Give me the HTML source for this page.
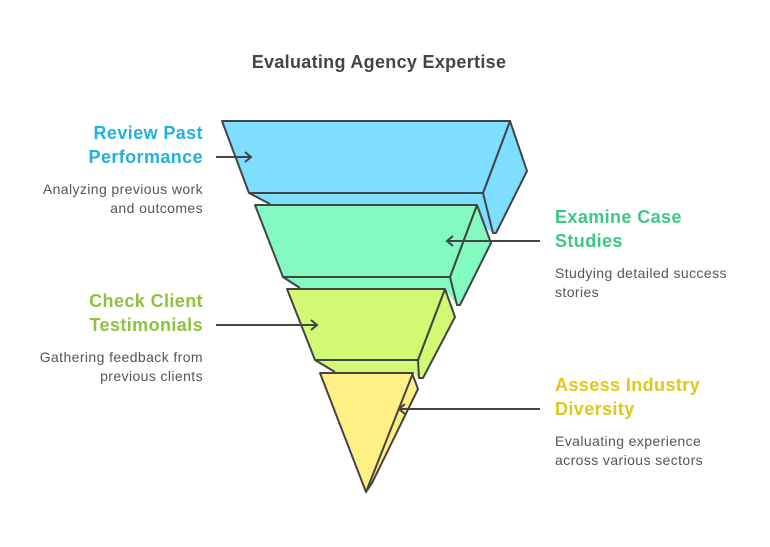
<!DOCTYPE html>
<html><head><meta charset="utf-8"><style>
body{margin:0;background:#fff;width:770px;height:542px;overflow:hidden}
svg text{font-family:"Liberation Sans",Arial,sans-serif}
</style></head><body>
<svg width="770" height="542" viewBox="0 0 770 542">
<defs><marker id="a" markerWidth="12" markerHeight="12" refX="9" refY="6" orient="auto" markerUnits="userSpaceOnUse"><path d="M3,1 L9,6 L3,11" fill="none" stroke="#444" stroke-width="2"/></marker></defs>
<text x="379" y="68" text-anchor="middle" font-size="18" font-weight="bold" fill="#444" letter-spacing="0.3">Evaluating Agency Expertise</text>
<g stroke="#444" stroke-width="2" stroke-linejoin="round">
<polygon points="249,193 270,205 455,205 493,233 496,233 527,171 510,121 483,193" fill="#7ddeff" stroke="none"/>
<polyline points="249,193 270,204" fill="none"/>
<polygon points="510,121 527,171 496,233 493,233 483,193" fill="#7ddeff"/>
<polygon points="222,121 510,121 483,193 249,193" fill="#7ddeff"/>
<polygon points="283,277 300,289 445,289 457,305 460,305 491,243 477,205 450,277" fill="#83fabf" stroke="none"/>
<polyline points="283,277 300,288" fill="none"/>
<polygon points="477,205 491,243 460,305 457,305 450,277" fill="#83fabf"/>
<polygon points="255,205 477,205 450,277 283,277" fill="#83fabf"/>
<polygon points="315,360 335,373 413,373 419,378 423,378 455,317 445,289 418,360" fill="#d1f973" stroke="none"/>
<polyline points="315,360 335,372" fill="none"/>
<polygon points="445,289 455,317 423,378 419,378 418,360" fill="#d1f973"/>
<polygon points="287,289 445,289 418,360 315,360" fill="#d1f973"/>
<polygon points="412,373 418,389 372,483 366,492" fill="#fff085"/>
<polygon points="320,373 413,373 366,492" fill="#fff085"/>
</g>
<g stroke="#444" stroke-width="2" fill="none">
<line x1="216" y1="157" x2="251" y2="157" marker-end="url(#a)"/>
<line x1="540" y1="241" x2="447" y2="241" marker-end="url(#a)"/>
<line x1="216" y1="325" x2="317" y2="325" marker-end="url(#a)"/>
<line x1="540" y1="409" x2="399" y2="409" marker-end="url(#a)"/>
</g>
<g font-size="18" font-weight="bold" letter-spacing="0.4">
<text x="203" y="139" text-anchor="end" fill="#22b0e0">Review Past</text>
<text x="203" y="163" text-anchor="end" fill="#22b0e0">Performance</text>
<text x="555" y="223" fill="#3cc882">Examine Case</text>
<text x="555" y="247" fill="#3cc882">Studies</text>
<text x="203" y="307" text-anchor="end" fill="#8dc23c">Check Client</text>
<text x="203" y="331" text-anchor="end" fill="#8dc23c">Testimonials</text>
<text x="555" y="391" fill="#e0c816">Assess Industry</text>
<text x="555" y="415" fill="#e0c816">Diversity</text>
</g>
<g font-size="14" fill="#555" letter-spacing="0.4">
<text x="203" y="194" text-anchor="end">Analyzing previous work</text>
<text x="203" y="213" text-anchor="end">and outcomes</text>
<text x="555" y="278">Studying detailed success</text>
<text x="555" y="297">stories</text>
<text x="203" y="362" text-anchor="end">Gathering feedback from</text>
<text x="203" y="381" text-anchor="end">previous clients</text>
<text x="555" y="446">Evaluating experience</text>
<text x="555" y="465">across various sectors</text>
</g>
</svg>
</body></html>
